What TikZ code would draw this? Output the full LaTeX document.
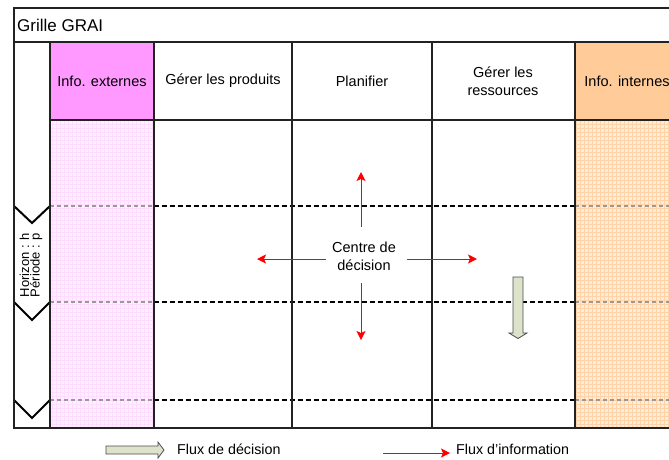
\documentclass[tikz,border=0pt]{standalone}
\usepackage{fontspec}
\setmainfont{Liberation Sans}
\usetikzlibrary{arrows.meta}
\definecolor{pinkhead}{HTML}{FF99FF}
\definecolor{pinkbody}{HTML}{FFF0FF}
\definecolor{pinkgrid}{HTML}{FFDCFF}
\definecolor{orhead}{HTML}{FFCC99}
\definecolor{orbody}{HTML}{FFEBD8}
\definecolor{orgrid}{HTML}{FFD3A8}
\definecolor{decfill}{HTML}{DDE2CB}
\definecolor{bordergray}{HTML}{222222}
\tikzset{
  cellline/.style={draw=bordergray, line width=1.2pt},
  headtxt/.style={font=\fontsize{14.5}{18}\selectfont, align=center, inner sep=0pt},
  blackdash/.style={draw=black, line width=2pt, dash pattern=on 5pt off 3pt},
  greydash/.style={draw=gray!80, line width=1.2pt, dash pattern=on 4pt off 3pt},
  info/.style={draw=red, line width=1pt, -{Stealth[length=9pt,width=9pt,inset=2pt]}},
  decarrow/.style={draw=black!70, line width=0.8pt, fill=decfill},
  chevron/.style={draw=black, line width=2pt},
  legtxt/.style={font=\fontsize{14.3}{17}\selectfont, anchor=west, inner sep=0pt}
}
\begin{document}
\begin{tikzpicture}[x=1pt,y=-1pt]
\useasboundingbox (0,0) rectangle (669,459);
\fill[white] (0,0) rectangle (669,459);
\begin{scope}
\clip (0,0) rectangle (669,459);
% coloured columns
\fill[pinkhead] (50,42) rectangle (154,120);
\fill[pinkbody] (50,120) rectangle (154,428);
\draw[pinkgrid, line width=0.5pt, step=4pt] (50,120) grid (154,428);
\fill[orhead] (575,42) rectangle (679,120);
\fill[orbody] (575,120) rectangle (679,428);
\draw[orgrid, line width=0.5pt, step=4pt] (575,120) grid (679,428);
% dashed period lines
\foreach \yy in {206,302,400} {
  \draw[greydash] (50,\yy) -- (154,\yy);
  \draw[blackdash] (154,\yy) -- (575,\yy);
  \draw[greydash] (575,\yy) -- (679,\yy);
}
% chevrons of the horizon strip
\foreach \yy/\ay in {206/223,302/320,400/418} {
  \draw[chevron] (14,\yy) -- (32,\ay) -- (50,\yy);
}
% grid lines
\draw[cellline] (14,8) rectangle (679,428);
\draw[cellline] (14,42) -- (679,42);
\draw[cellline] (50,120) -- (679,120);
\foreach \xx in {50,154,292,432,575} {
  \draw[cellline] (\xx,42) -- (\xx,428);
}
% texts
\node[anchor=west, inner sep=0pt, font=\fontsize{17}{20}\selectfont] (title) at (17,25) {Grille GRAI};
\node[headtxt] (hext) at (102,81) {Info. externes};
\node[headtxt] (hprod) at (223,81) {Gérer les produits};
\node[headtxt] (hplan) at (362,81) {Planifier};
\node[headtxt] (hres) at (503,81) {Gérer les\\ressources};
\node[headtxt] (hint) at (627,81) {Info. internes};
\node[rotate=90, align=left, inner sep=0pt, font=\fontsize{13}{10.5}\selectfont] (hor) at (31,265) {Horizon : h\\Période : p};
% decision centre and information flows
\node[headtxt] (cd) at (364,256) {Centre de\\décision};
\coordinate (upS) at (361,227);
\coordinate (upE) at (361,172);
\coordinate (dnS) at (361,283);
\coordinate (dnE) at (361,340);
\coordinate (lfS) at (326,259);
\coordinate (lfE) at (257,259);
\coordinate (rtS) at (407,259);
\coordinate (rtE) at (477,259);
\draw[info] (upS) -- (upE);
\draw[info] (dnS) -- (dnE);
\draw[info] (lfS) -- (lfE);
\draw[info] (rtS) -- (rtE);
% decision flow arrow
\draw[decarrow] (513,277) -- (523,277) -- (523,333) -- (527,333) -- (518,338.5) -- (509,333) -- (513,333) -- cycle;
\end{scope}
% legend
\draw[decarrow] (106,446) -- (158,446) -- (158,442) -- (164,450) -- (158,458) -- (158,454) -- (106,454) -- cycle;
\node[legtxt] (ldec) at (177,449) {Flux de décision};
\coordinate (liS) at (383,453);
\coordinate (liE) at (450,453);
\draw[info] (liS) -- (liE);
\node[legtxt] (linf) at (456,449) {Flux d’information};
\end{tikzpicture}
\end{document}
